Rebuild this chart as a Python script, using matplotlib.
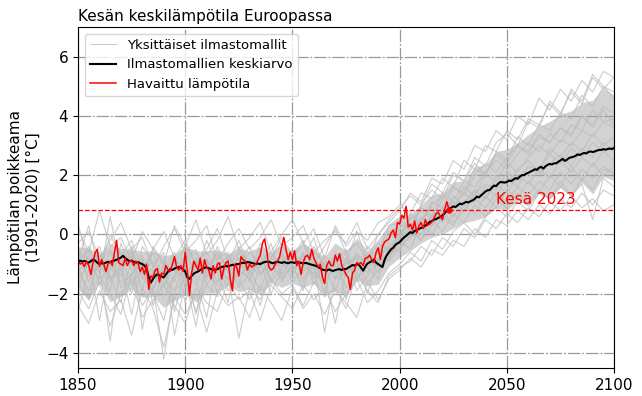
import numpy as np
import matplotlib
matplotlib.use("Agg")
import matplotlib.pyplot as plt

# observed summer temperature anomaly, 1850-2023
obs_years = np.arange(1850, 2024)
observed = [
    -0.9, -1.0, -0.95, -1.08, -0.9, -1.05, -1.35, -0.95, -0.62, -0.5,
    -1.08, -0.85, -1.0, -1.25, -1.0, -0.9, -1.05, -0.6, -0.2, -0.95,
    -1.0, -1.05, -0.8, -1.05, -0.9, -0.88, -1.05, -0.9, -0.95, -1.25,
    -1.1, -1.35, -1.0, -1.85, -1.4, -1.45, -1.2, -1.15, -1.6, -1.3,
    -1.35, -1.05, -1.2, -1.25, -1.0, -0.75, -1.1, -1.2, -1.05, -1.25,
    -0.6, -1.25, -2.05, -1.3, -0.9, -1.05, -1.2, -0.8, -1.3, -0.85,
    -1.1, -1.2, -1.5, -1.05, -1.3, -1.0, -0.95, -1.5, -1.15, -0.95,
    -0.9, -1.5, -1.9, -1.0, -1.1, -1.4, -0.75, -0.85, -0.9, -1.2,
    -1.0, -1.1, -1.05, -1.0, -0.85, -0.7, -0.3, -0.15, -0.55, -1.1,
    -1.2, -1.15, -1.0, -0.9, -0.75, -0.4, -0.1, -0.5, -0.85, -0.6,
    -0.85, -0.55, -1.05, -0.9, -1.35, -0.95, -0.75, -0.7, -0.85, -0.5,
    -0.8, -0.95, -1.1, -1.0, -1.45, -1.65, -1.05, -0.9, -1.05, -1.05,
    -0.7, -0.9, -0.65, -1.05, -1.2, -1.35, -1.45, -1.85, -1.3, -1.2,
    -0.95, -1.0, -0.95, -1.05, -0.8, -0.78, -0.7, -0.85, -0.95, -0.6,
    -0.45, -0.85, -0.4, -0.25, -0.2, -0.15, 0.05, 0.15, -0.1, 0.4,
    0.35, 0.65, 0.55, 0.95, 0.25, 0.35, 0.15, 0.45, 0.05, 0.3,
    0.4, 0.2, 0.5, 0.3, 0.35, 0.42, 0.55, 0.7, 0.75, 0.6,
    0.5, 0.85, 1.1, 0.84,
]

# multi-model mean, 1850-2100
mean_years = np.arange(1850, 2101)
model_mean = [
    -0.91, -0.88, -0.92, -0.89, -0.93, -0.95, -0.9, -0.85, -0.88, -0.95,
    -1.0, -0.97, -0.98, -0.95, -0.92, -0.94, -0.9, -0.88, -0.85, -0.82,
    -0.78, -0.72, -0.8, -0.85, -0.9, -0.88, -0.92, -0.95, -0.93, -0.97,
    -1.0, -1.05, -1.15, -1.45, -1.62, -1.5, -1.4, -1.34, -1.38, -1.42,
    -1.45, -1.35, -1.25, -1.17, -1.2, -1.15, -1.12, -1.1, -1.13, -1.18,
    -1.25, -1.45, -1.5, -1.4, -1.32, -1.28, -1.25, -1.2, -1.15, -1.12,
    -1.11, -1.14, -1.17, -1.2, -1.18, -1.17, -1.13, -1.1, -1.08, -1.06,
    -1.08, -1.05, -1.02, -1.04, -1.0, -1.0, -0.97, -0.95, -0.97, -0.93,
    -0.94, -0.96, -0.98, -1.0, -0.98, -1.0, -0.96, -0.93, -0.92, -0.92,
    -0.95, -0.97, -0.94, -0.92, -0.94, -0.96, -0.93, -0.95, -0.97, -0.94,
    -0.94, -0.96, -0.93, -0.97, -0.95, -0.98, -0.96, -0.97, -1.0, -1.02,
    -1.04, -1.06, -1.1, -1.14, -1.19, -1.2, -1.22, -1.18, -1.21, -1.23,
    -1.2, -1.18, -1.17, -1.2, -1.16, -1.17, -1.12, -1.08, -1.03, -1.05,
    -1.0, -1.02, -1.12, -1.22, -1.08, -0.98, -0.94, -0.9, -0.85, -0.95,
    -1.0, -1.05, -1.1, -0.85, -0.7, -0.6, -0.5, -0.45, -0.35, -0.3,
    -0.26, -0.18, -0.1, -0.05, 0.02, 0.08, 0.05, 0.12, 0.15, 0.19,
    0.22, 0.25, 0.3, 0.35, 0.42, 0.45, 0.5, 0.52, 0.56, 0.59,
    0.65, 0.72, 0.8, 0.87, 0.9, 0.95, 0.92, 0.98, 1.04, 1.02,
    1.06, 1.1, 1.08, 1.12, 1.15, 1.2, 1.28, 1.25, 1.32, 1.38,
    1.45, 1.49, 1.5, 1.58, 1.65, 1.63, 1.72, 1.77, 1.76, 1.75,
    1.77, 1.82, 1.8, 1.85, 1.9, 1.88, 1.95, 2.0, 2.0, 2.05,
    2.08, 2.12, 2.15, 2.2, 2.18, 2.25, 2.28, 2.22, 2.3, 2.35,
    2.38, 2.36, 2.4, 2.4, 2.45, 2.5, 2.55, 2.48, 2.52, 2.58,
    2.6, 2.62, 2.65, 2.7, 2.68, 2.72, 2.75, 2.73, 2.78, 2.8,
    2.78, 2.8, 2.83, 2.85, 2.85, 2.88, 2.86, 2.88, 2.9, 2.88,
    2.92,
]

# individual climate models, every 5 years 1850-2100
model_years = np.arange(1850, 2101, 5)
model_runs = [
    [-0.5, -1.6, -0.8, -1.9, -0.3, -1.2, -0.7, -2.4, -1.1, -0.6,
     -1.8, -0.9, -1.5, -0.4, -1.3, -0.8, -1.6, -0.5, -1.2, -0.7,
     -1.4, -0.6, -1.7, -0.9, -1.5, -0.8, -1.3, -0.4, -0.9, 0.1,
     -0.3, 0.6, 0.3, 1.1, 0.9, 1.6, 1.4, 2.2, 2.0, 2.8,
     2.5, 3.3, 3.0, 3.7, 3.5, 4.1, 3.9, 4.7, 4.3, 5.0, 4.6],
    [-1.3, -0.7, -2.9, -1.0, -1.4, -0.5, -3.2, -1.2, -1.8, -0.9,
     -1.1, -2.7, -0.8, -1.6, -1.0, -0.6, -1.2, -1.9, -0.8, -1.1,
     -0.5, -1.5, -0.9, -3.3, -1.4, -1.0, -0.7, -1.6, -1.2, -0.8,
     -0.2, -0.5, 0.4, 0.0, 0.6, 0.3, 1.0, 0.7, 1.3, 0.9,
     1.5, 1.2, 1.8, 1.4, 2.0, 1.6, 2.3, 1.8, 2.4, 2.0, 2.3],
    [-0.9, 0.3, -1.3, -0.6, -1.1, -2.0, -0.4, -1.0, -2.1, -1.4,
     -0.7, -1.3, -0.2, -1.0, -1.9, -1.2, -0.6, -1.1, -0.3, -1.5,
     -1.0, -1.9, -0.4, -1.1, -0.7, -2.2, -0.9, -1.3, -0.5, -0.9,
     0.2, -0.1, 0.5, 0.9, 0.4, 1.3, 1.0, 1.5, 1.2, 2.0,
     1.7, 2.2, 2.5, 2.1, 2.9, 2.6, 3.1, 2.8, 3.4, 3.0, 3.3],
    [-1.8, -0.8, -1.1, -3.6, -0.9, -0.4, -1.5, -1.1, -0.6, -2.6,
     -1.2, -1.7, -0.9, -1.3, -2.3, -0.5, -1.0, -1.4, -0.8, -0.3,
     -1.1, -1.6, -1.0, -1.4, -3.0, -1.2, -0.6, -1.1, -1.5, -0.4,
     -0.6, 0.3, -0.2, 0.7, 0.5, 0.9, 1.4, 1.1, 1.6, 1.3,
     1.9, 1.6, 2.3, 2.0, 2.4, 2.7, 2.3, 2.9, 2.6, 3.1, 2.8],
    [0.4, -1.1, -0.6, -1.4, -2.3, -0.8, -1.3, -0.6, -1.7, -1.0,
     -0.4, -1.5, -2.8, -0.8, -0.6, -1.4, -1.0, -0.7, -1.6, -1.1,
     -0.8, -0.3, -1.2, -1.7, -0.9, -1.4, -0.7, -1.0, -0.6, 0.3,
     0.4, 0.1, 0.9, 0.6, 1.4, 1.1, 1.8, 1.6, 2.1, 2.5,
     2.2, 2.7, 3.1, 2.8, 3.4, 3.1, 3.7, 3.5, 4.2, 3.8, 3.9],
    [-1.0, -2.2, -0.7, -1.2, -0.8, -1.7, -1.1, -2.0, -2.9, -1.3,
     -0.8, -0.5, -1.4, -1.1, -0.7, -1.8, -1.3, -0.9, -2.0, -1.2,
     -0.9, -1.3, -0.6, -1.0, -1.9, -0.8, -1.5, -1.1, -0.6, -0.9,
     -0.4, -0.1, 0.2, 0.5, 0.1, 0.7, 0.4, 1.0, 0.6, 1.2,
     0.9, 1.4, 1.0, 1.5, 1.2, 1.8, 1.3, 1.7, 0.5, 1.9, 1.6],
    [-0.6, -0.9, -1.5, 0.6, -1.2, -0.7, -1.9, -0.4, -1.0, -1.6,
     -0.3, -1.1, -0.8, -2.0, -0.9, -0.2, -1.1, -0.7, -1.5, -0.6,
     -1.2, -0.8, -0.1, -1.3, -1.0, -0.5, -1.6, -0.6, -1.0, -0.2,
     0.5, 0.2, 1.0, 1.5, 1.2, 2.0, 1.8, 2.6, 2.3, 3.1,
     3.4, 3.0, 3.8, 3.6, 4.5, 4.1, 4.8, 4.4, 5.3, 4.9, 5.3],
    [-1.5, -1.0, -0.4, -1.6, -1.1, -2.7, -0.9, -1.4, -0.8, -3.4,
     -1.6, -1.0, -1.3, -0.6, -1.2, -1.7, -0.8, -1.3, -0.9, -1.6,
     -1.0, -0.7, -1.5, -1.2, -0.8, -1.8, -1.1, -0.7, -1.3, -0.5,
     -0.1, 0.2, 0.0, 0.6, 0.9, 0.6, 1.1, 1.5, 1.2, 1.7,
     1.4, 2.0, 1.7, 2.2, 1.9, 2.5, 2.1, 2.6, 2.3, 2.8, 2.5],
    [-0.8, -1.4, -1.0, -0.5, -1.8, -1.3, -0.9, -1.6, -1.3, -0.7,
     -2.3, -1.0, -0.6, -1.2, -1.5, -1.0, -0.4, -1.3, -1.0, -0.8,
     -1.6, -1.1, -0.8, -2.0, -0.6, -1.0, 0.1, -0.9, -0.3, -0.5,
     -0.1, 0.7, 0.4, 1.0, 1.3, 0.9, 1.6, 1.3, 2.0, 1.8,
     2.4, 2.1, 2.6, 3.0, 2.7, 3.2, 3.0, 3.5, 3.3, 3.8, 3.6],
    [-2.6, -1.2, -0.9, -1.5, -1.0, -0.6, -1.4, -1.9, -1.0, -1.2,
     -1.5, -3.1, -1.1, -0.7, -1.1, -1.5, -2.2, -1.0, -0.6, -1.3,
     -1.2, -0.8, -1.4, -1.0, -1.3, -0.6, -1.9, -1.4, -0.9, -0.7,
     -0.3, 0.1, -0.2, 0.3, 0.7, 0.4, 0.8, 1.2, 0.9, 1.4,
     1.1, 1.6, 1.3, 1.8, 1.5, 2.1, 1.7, 2.2, 1.9, 2.3, 2.0],
    [-1.1, -0.5, -1.7, -0.9, -0.6, -1.0, -1.3, -0.9, -1.5, -1.9,
     -0.9, -0.6, -1.7, -1.2, -0.9, -0.8, -1.4, -2.4, -1.0, -0.9,
     -0.6, -1.1, -1.3, -0.7, -1.1, -1.0, -0.8, -2.0, -0.8, -0.4,
     0.0, 0.5, 0.8, 0.5, 1.2, 1.6, 1.3, 2.0, 2.4, 2.1,
     2.6, 3.0, 2.7, 3.3, 3.1, 3.6, 3.4, 4.0, 3.7, 4.3, 4.1],
    [-1.2, -1.9, -0.9, -1.1, -1.6, -1.4, -0.8, -1.8, -1.2, -1.0,
     -1.4, -0.8, -1.2, -1.7, -0.7, -1.2, -1.5, -0.9, -1.1, -1.4,
     -0.7, -1.2, -1.1, -0.8, -1.5, -1.3, -1.0, -0.8, -1.1, -0.6,
     -0.5, 0.0, 0.6, 0.3, 0.8, 1.1, 0.8, 1.4, 1.7, 1.5,
     2.1, 1.8, 2.3, 2.2, 2.7, 2.4, 2.9, 2.6, 3.1, 2.8, 3.0],
    [0.2, -0.6, 0.8, -0.4, -0.1, -0.9, 0.1, -0.5, -1.0, 0.3,
     -0.4, 0.5, -0.7, -0.2, 0.6, -0.5, -0.1, 0.4, -0.6, 0.0,
     0.5, -0.3, 0.2, -0.8, 0.3, -0.4, 0.1, -0.2, 0.4, 0.6,
     1.0, 0.7, 1.4, 1.2, 1.9, 1.6, 2.5, 2.2, 3.0, 2.8,
     3.5, 3.2, 3.9, 3.7, 4.4, 4.0, 4.9, 4.5, 5.4, 5.0, 4.8],
    [-2.4, -3.0, -1.9, -2.6, -2.2, -3.4, -1.8, -2.5, -3.8, -2.1,
     -2.7, -2.0, -3.3, -1.9, -2.4, -2.1, -2.8, -1.7, -2.3, -2.9,
     -1.8, -2.5, -2.0, -2.7, -1.9, -2.3, -2.8, -1.6, -2.2, -1.5,
     -1.2, -0.8, -1.1, -0.5, -0.7, -0.2, -0.4, 0.2, -0.1, 0.5,
     0.3, 0.8, 0.5, 1.0, 0.7, 1.2, 0.9, 1.4, 1.0, 1.5, 1.3],
    [-0.3, 0.1, -0.8, -0.2, 0.4, -0.5, -0.1, -1.1, -0.4, 0.2,
     -0.6, -0.2, 0.3, -0.9, -0.3, 0.2, -0.5, -0.1, 0.5, -0.4,
     -0.1, 0.3, -0.6, -0.2, 0.1, -0.3, 0.4, -0.5, 0.0, 0.5,
     0.9, 1.3, 1.0, 1.7, 1.4, 2.1, 1.8, 2.4, 2.0, 2.7,
     2.4, 3.0, 2.8, 3.4, 3.1, 3.6, 3.3, 4.0, 3.6, 4.2, 3.7],
    [-1.9, -2.5, -1.6, -3.1, -2.0, -1.5, -2.8, -2.2, -1.7, -2.4,
     -3.0, -1.8, -2.3, -2.6, -1.6, -2.2, -1.9, -2.9, -1.7, -2.1,
     -2.5, -1.7, -2.2, -1.8, -2.6, -2.0, -1.5, -2.3, -1.9, -1.3,
     -1.0, -0.6, -0.9, -0.2, -0.5, 0.1, 0.4, 0.0, 0.6, 0.9,
     0.6, 1.1, 0.8, 1.4, 1.2, 1.6, 1.3, 1.9, 1.5, 2.2, 2.1],
    [-1.0, -0.4, -1.3, 0.0, -0.7, -0.2, -1.2, -0.5, 0.1, -0.8,
     -0.2, -1.0, -0.5, 0.2, -0.9, -0.4, -1.3, -0.3, -0.8, -0.1,
     -0.7, -0.2, -1.0, -0.4, 0.2, -0.6, -0.3, -0.9, 0.0, 0.4,
     0.8, 1.4, 1.1, 1.9, 1.7, 2.5, 2.2, 3.0, 2.8, 3.5,
     3.2, 4.0, 3.7, 4.6, 4.2, 4.9, 4.5, 5.2, 4.8, 5.5, 5.3],
    [-1.6, -2.2, -1.4, -2.0, -2.7, -1.3, -2.4, -1.8, -4.2, -1.9,
     -1.5, -2.6, -1.7, -2.1, -1.4, -3.5, -1.8, -2.2, -1.5, -2.0,
     -1.7, -2.4, -1.6, -2.1, -1.8, -2.5, -1.3, -1.9, -2.3, -1.4,
     -1.1, -0.9, -0.4, -0.7, -0.1, -0.4, 0.2, -0.1, 0.5, 0.2,
     0.7, 0.4, 0.9, 0.6, 1.1, 0.8, 1.3, 0.9, 1.2, 0.8, 1.0],
]

summer_2023 = 0.84

fig = plt.figure(figsize=(6.42, 3.96), dpi=100)
ax = fig.add_axes([0.1215, 0.071, 0.835, 0.861])

runs = np.array(model_runs)
ax.fill_between(model_years, np.percentile(runs, 15, axis=0),
                np.percentile(runs, 85, axis=0), color='#d2d2d2', lw=0)
for i, run in enumerate(model_runs):
    ax.plot(model_years, run, color='#bcbcbc', lw=0.8, alpha=0.75,
            label='Yksittäiset ilmastomallit' if i == 0 else None)

ax.plot(mean_years, model_mean, color='black', lw=1.5,
        label='Ilmastomallien keskiarvo')
ax.plot(obs_years, observed, color='red', lw=1.1, label='Havaittu lämpötila')

ax.axhline(summer_2023, color='red', lw=0.9, ls='--')
ax.plot(2023, summer_2023, 'o', color='red', ms=3.5)
ax.text(2045, 0.93, 'Kesä 2023', color='red', fontsize=11, va='bottom')

ax.set_xlim(1850, 2100)
ax.set_ylim(-4.5, 7)
ax.set_xticks(range(1850, 2101, 50))
ax.set_yticks(range(-4, 7, 2))
ax.tick_params(labelsize=11)
ax.grid(True, color='#9a9a9a', ls=(0, (10, 1.5, 1.5, 1.5)), lw=0.9)

ax.set_title('Kesän keskilämpötila Euroopassa', loc='left', fontsize=11, pad=4)
ax.set_ylabel('Lämpötilan poikkeama\n(1991-2020) [°C]', fontsize=11)

ax.legend(loc='upper left', fontsize=9.5)

fig.savefig('out.png', dpi=100)
